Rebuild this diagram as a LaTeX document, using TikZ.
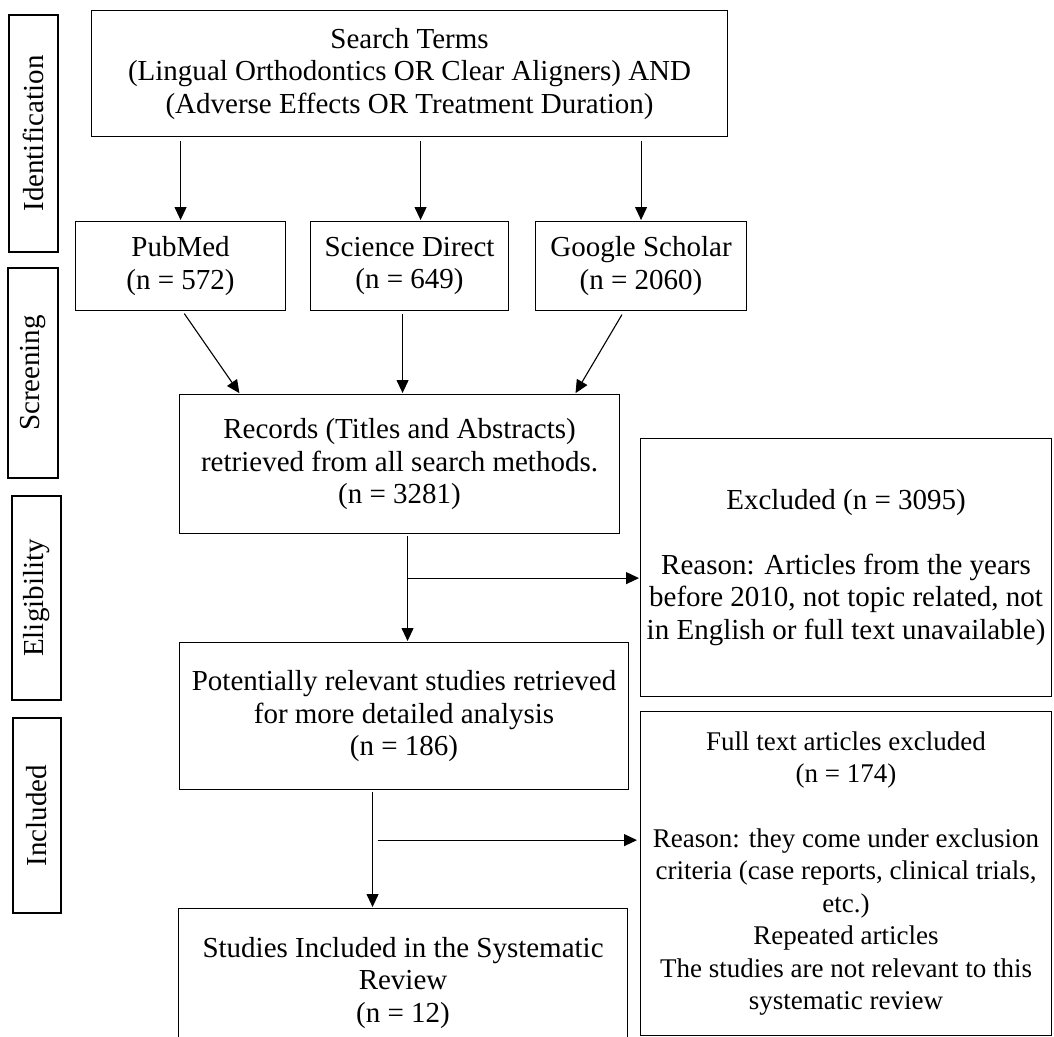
\documentclass[tikz,border=0pt]{standalone}
\usepackage{fontspec}
\setmainfont{Liberation Serif}
\usetikzlibrary{arrows.meta,calc}

\tikzset{
  stagebox/.style={draw, line width=1.1pt, anchor=north west, align=center, inner sep=1pt, font=\fontsize{29}{32.5}\selectfont},
  sidebox/.style={draw, line width=1.1pt, rotate=90, inner sep=2pt, font=\fontsize{29}{32.5}\selectfont},
  flowarrow/.style={line width=1.1pt, -{Triangle[length=13pt,width=12pt]}},
}

\begin{document}
\begin{tikzpicture}[x=1pt, y=-1pt]
	\useasboundingbox (0,0) rectangle (1054,1036);
	
	% stages
	\node[sidebox, minimum width=237pt, minimum height=49pt] (ident) at (33.5,133.5) {Identification};
	\node[sidebox, minimum width=210pt, minimum height=50pt] (screen) at (33,373) {Screening};
	\node[sidebox, minimum width=204pt, minimum height=49pt] (elig) at (36.5,598) {Eligibility};
	\node[sidebox, minimum width=195pt, minimum height=48pt] (incl) at (37,815.5) {Included};
	
	% search and databases
	\node[stagebox, minimum width=636pt, minimum height=126pt] (search) at (91,10) {Search Terms\\(Lingual Orthodontics OR Clear Aligners) AND\\(Adverse Effects OR Treatment Duration)};
	\node[stagebox, minimum width=210pt, minimum height=89pt] (pubmed) at (75,221) {PubMed\\(n = 572)};
	\node[stagebox, minimum width=198pt, minimum height=89pt] (scidir) at (310,221) {Science Direct\\(n = 649)};
	\node[stagebox, minimum width=211pt, minimum height=89pt] (scholar) at (535,221) {Google Scholar\\(n = 2060)};
	
	% screening and selection
	\node[stagebox, minimum width=440pt, minimum height=139pt] (records) at (179,394) {Records (Titles and Abstracts)\\retrieved from all search methods.\\(n = 3281)};
	\node[stagebox, minimum width=411pt, minimum height=258pt] (excluded) at (640,438) {Excluded (n = 3095)\\[32pt]Reason: Articles from the years\\before 2010, not topic related, not\\in English or full text unavailable)};
	\node[stagebox, minimum width=449pt, minimum height=147pt] (relevant) at (179,642) {Potentially relevant studies retrieved\\for more detailed analysis\\(n = 186)};
	\node[stagebox, minimum width=411pt, minimum height=324pt, font=\fontsize{27}{32.5}\selectfont] (fulltext) at (640,711) {Full text articles excluded\\(n = 174)\\[32pt]Reason: they come under exclusion\\criteria (case reports, clinical trials,\\etc.)\\Repeated articles\\The studies are not relevant to this\\systematic review};
	\node[stagebox, minimum width=449pt, minimum height=148pt] (included) at (178,908) {Studies Included in the Systematic\\Review\\(n = 12)};
	
	% arrows
	\coordinate (sdin) at ([xshift=11pt]scidir.north);
	\draw[flowarrow, shorten <=4pt, shorten >=1pt] (search.south -| pubmed.north) -- (pubmed.north);
	\draw[flowarrow, shorten <=4pt, shorten >=1pt] (search.south -| sdin) -- (sdin);
	\draw[flowarrow, shorten <=4pt, shorten >=1pt] (search.south -| scholar.north) -- (scholar.north);
	
	\coordinate (recin) at ([xshift=3pt]records.north);
	\draw[flowarrow, shorten <=3pt, shorten >=1pt] ([xshift=2pt]pubmed.south) -- ([xshift=61pt]records.north west);
	\draw[flowarrow, shorten <=3pt, shorten >=1pt] (scidir.south -| recin) -- (recin);
	\draw[flowarrow, shorten <=4pt, shorten >=1pt] ([xshift=-17pt]scholar.south) -- ([xshift=396pt]records.north west);
	
	\coordinate (split1) at ([xshift=8pt]records.south);
	\coordinate (branch1) at ($(split1)+(0,44)$);
	\draw[flowarrow, shorten <=2pt, shorten >=1pt] (split1) -- (split1 |- relevant.north);
	\draw[flowarrow, shorten >=1pt] (branch1) -- (branch1 -| excluded.west);
	
	\coordinate (split2) at ([xshift=-31.5pt]relevant.south);
	\coordinate (branch2) at ($(split2)+(5,50)$);
	\draw[flowarrow, shorten <=2pt, shorten >=1pt] (split2) -- (split2 |- included.north);
	\draw[flowarrow, shorten >=3pt] (branch2) -- (branch2 -| fulltext.west);
\end{tikzpicture}
\end{document}
